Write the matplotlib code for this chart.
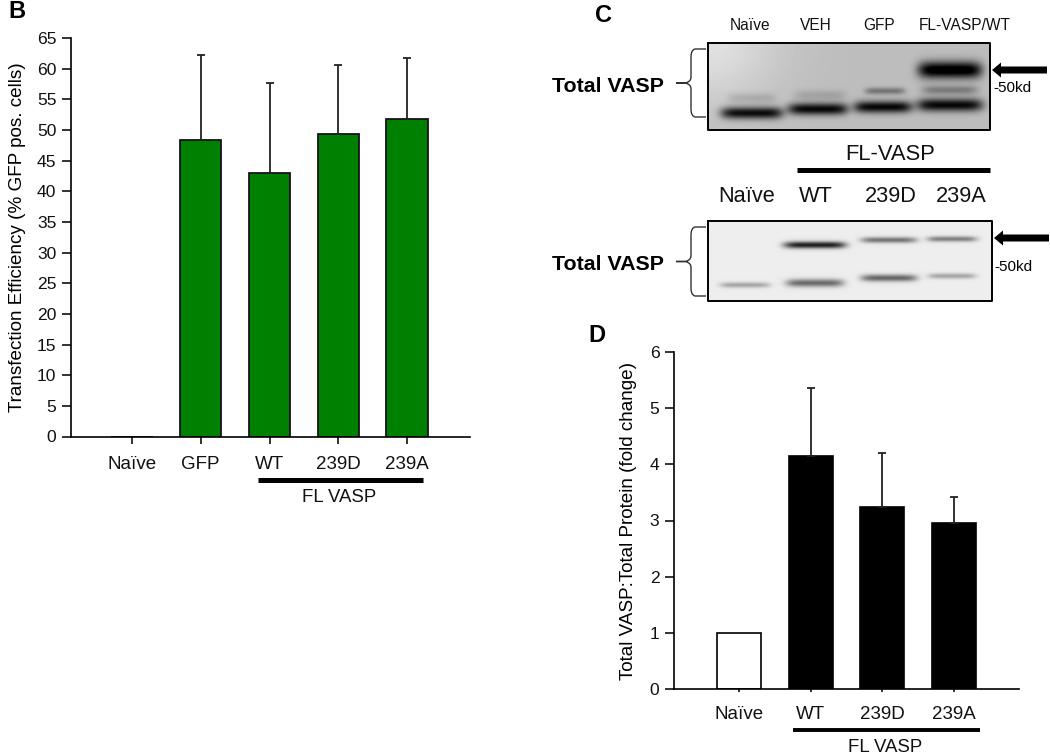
import numpy as np
import matplotlib
matplotlib.use("Agg")
import matplotlib.pyplot as plt
from matplotlib.path import Path
from matplotlib.patches import PathPatch, FancyArrow

plt.rcParams["font.family"] = ["Liberation Sans", "DejaVu Sans"]

# Panel B
b_labels = ["Naïve", "GFP", "WT", "239D", "239A"]
b_values = [0, 48.4, 43.0, 49.3, 51.8]
b_errors = [0, 13.8, 14.7, 11.3, 10.0]
b_yticks = list(range(0, 70, 5))

# Panel D
d_labels = ["Naïve", "WT", "239D", "239A"]
d_values = [1.0, 4.14, 3.24, 2.96]
d_errors = [0, 1.22, 0.96, 0.45]
d_yticks = [0, 1, 2, 3, 4, 5, 6]

# Blot labels
c1_labels = ["Naïve", "VEH", "GFP", "FL-VASP/WT"]
c2_labels = ["Naïve", "WT", "239D", "239A"]

# blot bands: x centre, y centre, half width, half height, darkness
c1_bands = [
    (752, 113, 31, 6, 1.0), (818, 109, 30, 6, 1.0), (883, 107, 29, 6, 1.0),
    (950, 105, 33, 6.5, 1.0), (950, 70, 32, 8.5, 1.15), (950, 90, 28, 4.5, 0.35),
    (885, 91, 20, 3.5, 0.4), (820, 95, 26, 5, 0.15), (752, 98, 24, 5, 0.15),
]
c2_bands = [
    (815, 245, 31, 3.5, 0.95), (815, 283, 29, 4, 0.6), (889, 240, 28, 3, 0.55),
    (889, 278, 28, 3.6, 0.62), (952, 239, 25, 2.8, 0.5), (952, 276, 24, 2.8, 0.33),
    (745, 285, 25, 2.8, 0.33),
]

W, H = 1050, 755
fig = plt.figure(figsize=(W / 100, H / 100), dpi=100)


def make_axes(left, right, top, bottom):
    return fig.add_axes([left / W, 1 - bottom / H, (right - left) / W, (bottom - top) / H])


def style_axes(ax, xlen, xpad):
    ax.spines["top"].set_visible(False)
    ax.spines["right"].set_visible(False)
    ax.spines["left"].set_linewidth(1.2)
    ax.spines["bottom"].set_linewidth(1.2)
    ax.tick_params(axis="y", width=1.2, length=6.5, labelsize=12.6, colors="#111111", pad=4)
    ax.tick_params(axis="x", width=1.2, length=xlen, labelsize=13.5, colors="#111111", pad=xpad)
    ax.patch.set_alpha(0)


def draw_errors(ax, xs, values, errors):
    for i in xs[1:]:
        ax.errorbar(i, values[i], yerr=[[0], [errors[i]]], color="#222222", lw=1.3,
                    capsize=3.2, capthick=1.3)


# B bars
ax_b = make_axes(71, 470, 38, 436.5)
x_b = np.arange(len(b_labels))
ax_b.bar(x_b, b_values, width=0.6, color="#008000", edgecolor="#1a1020", linewidth=1.3)
draw_errors(ax_b, x_b, b_values, b_errors)
ax_b.set_xlim(-0.887, 4.916)
ax_b.set_ylim(0, 65)
ax_b.set_yticks(b_yticks)
ax_b.set_xticks(x_b)
ax_b.set_xticklabels(b_labels)
ax_b.set_ylabel("Transfection Efficiency (% GFP pos. cells)", fontsize=13.6, labelpad=8)
style_axes(ax_b, 5, 9)

# D bars
ax_d = make_axes(674, 1019, 352, 689)
x_d = np.arange(len(d_labels))
colors_d = ["white", "black", "black", "black"]
ax_d.bar(x_d, d_values, width=0.614, color=colors_d, edgecolor="black", linewidth=1.2)
draw_errors(ax_d, x_d, d_values, d_errors)
ax_d.set_xlim(-0.907, 3.907)
ax_d.set_ylim(0, 6)
ax_d.set_yticks(d_yticks)
ax_d.set_xticks(x_d)
ax_d.set_xticklabels(d_labels)
ax_d.set_ylabel("Total VASP:Total Protein (fold change)", fontsize=13.6, labelpad=9)
style_axes(ax_d, 2.4, 9.5)

# overlay in pixel coordinates for the blots and annotations
ov = fig.add_axes([0, 0, 1, 1], zorder=5)


def draw_blot(left, right, top, bottom, bands, base, dark, shade):
    xx, yy = np.meshgrid(np.arange(left, right) + 0.5, np.arange(top, bottom) + 0.5)
    # lighter towards the top left corner of the film
    img = base + shade * np.exp(-((xx - left) / 70) ** 2 - ((yy - top) / 60) ** 2)
    for cx, cy, hw, hh, s in bands:
        bx = np.exp(-np.abs((xx - cx) / hw) ** 6)
        by = np.exp(-((yy - cy) / hh) ** 2)
        img = img - s * dark * bx * by
    ov.imshow(np.clip(img, 0, 1), cmap="gray", vmin=0, vmax=1, extent=(left, right, bottom, top),
              aspect="auto", interpolation="bilinear", zorder=1)
    ov.plot([left, right, right, left, left], [top, top, bottom, bottom, top], color="black",
            lw=1.4, zorder=2)


draw_blot(708, 990, 43, 130, c1_bands, 0.74, 0.72, 0.14)
draw_blot(708, 992, 221, 301, c2_bands, 0.93, 0.85, 0.0)
ov.set_xlim(0, W)
ov.set_ylim(H, 0)
ov.axis("off")


def brace(x_end, x_spine, x_stem, top, bottom):
    mid = (top + bottom) / 2
    verts = [
        (x_end, top), (x_spine + 4, top), (x_spine, top + 1), (x_spine, top + 8),
        (x_spine, mid - 6), (x_spine, mid - 1), (x_spine - 6, mid),
        (x_stem, mid), (x_spine - 6, mid),
        (x_spine, mid + 1), (x_spine, mid + 6), (x_spine, bottom - 8),
        (x_spine, bottom - 1), (x_spine + 4, bottom), (x_end, bottom),
    ]
    codes = [Path.MOVETO, Path.LINETO, Path.CURVE3, Path.CURVE3,
             Path.LINETO, Path.CURVE3, Path.CURVE3,
             Path.LINETO, Path.LINETO,
             Path.CURVE3, Path.CURVE3, Path.LINETO,
             Path.CURVE3, Path.CURVE3, Path.LINETO]
    ov.add_patch(PathPatch(Path(verts, codes), fill=False, edgecolor="#333333", lw=1))


brace(706, 691, 676, 49, 117)
brace(706, 691, 676, 227, 296)

for x, lab in zip([750, 816, 879, 965], c1_labels):
    ov.text(x, 26, lab, ha="center", va="center", fontsize=11.2, color="#111111")
for x, lab in zip([747, 816, 891, 961], c2_labels):
    ov.text(x, 197, lab, ha="center", va="center", fontsize=15.7, color="#111111")

ov.text(608, 86, "Total VASP", ha="center", va="center", fontsize=15.4, fontweight="bold")
ov.text(608, 264, "Total VASP", ha="center", va="center", fontsize=15.4, fontweight="bold")
ov.text(993, 88, "-50kd", ha="left", va="center", fontsize=11)
ov.text(994, 267, "-50kd", ha="left", va="center", fontsize=11)
ov.text(890, 155, "FL-VASP", ha="center", va="center", fontsize=15.8, color="#111111")
ov.plot([797, 990], [170, 170], color="black", lw=3.6, solid_capstyle="butt")

for x_tip, x_tail, y_tip in [(992, 1047, 70), (994, 1049, 238)]:
    ov.add_patch(FancyArrow(x_tail, y_tip, x_tip - x_tail, 0, width=7, head_width=15, head_length=9,
                            length_includes_head=True, color="black", lw=0))

# bars under the category labels
ov.plot([258, 423], [480, 480], color="black", lw=3.6, solid_capstyle="butt")
ov.text(339, 497, "FL VASP", ha="center", va="center", fontsize=13.4, color="#111111")
ov.plot([793, 980], [730, 730], color="black", lw=2.8, solid_capstyle="butt")
ov.text(885, 747, "FL VASP", ha="center", va="center", fontsize=13.4, color="#111111")

# panel letters
ov.text(8, 11, "B", ha="left", va="center", fontsize=17, fontweight="bold")
ov.text(595, 15, "C", ha="left", va="center", fontsize=17, fontweight="bold")
ov.text(588, 335, "D", ha="left", va="center", fontsize=17, fontweight="bold")

fig.savefig("out.png", dpi=100)
